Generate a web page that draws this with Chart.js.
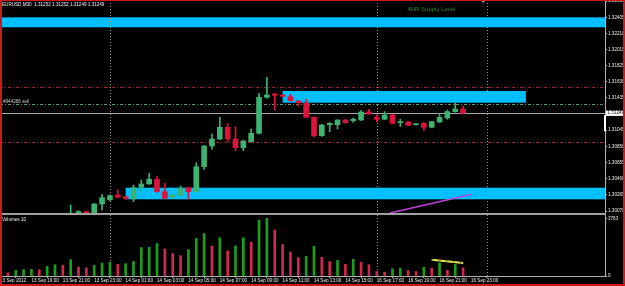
<!DOCTYPE html>
<html>
<head>
<meta charset="utf-8">
<title>EURUSD,M30</title>
<script src="https://cdn.jsdelivr.net/npm/chart.js@4.4.1/dist/chart.umd.min.js"></script>
<style>
  html, body { margin: 0; padding: 0; background: #000; }
  #wrap { position: relative; width: 625px; height: 286px; background: #000; overflow: hidden; }
  canvas { position: absolute; left: 0; }
  #price { top: 0; }
  #vol { top: 213px; }
  .edge { position: absolute; background: #cc1a1a; z-index: 3; }
  #sep { position: absolute; left: 0; top: 213px; width: 606px; height: 2px; background: #a0a0a0; z-index: 2; }
</style>
</head>
<body>
<div id="wrap">
  <canvas id="price" width="625" height="214"></canvas>
  <canvas id="vol" width="625" height="73"></canvas>
  <div id="sep"></div>
  <div class="edge" style="left:0;top:0;width:2px;height:286px"></div>
  <div class="edge" style="left:0;top:0;width:625px;height:1px"></div>
  <div class="edge" style="left:623px;top:0;width:2px;height:286px"></div>
  <div class="edge" style="left:0;top:284px;width:625px;height:2px"></div>
</div>
<script>
// EURUSD M30 candles, bar 0 = 13 Sep 17:30
const barOpen  = [1.29960, 1.29930, 1.29975, 1.30000, 1.29970, 1.29940, 1.30000, 1.29970, 1.29995, 1.30035,
                  1.30062, 1.30043, 1.30155, 1.30207, 1.30263, 1.30243, 1.30215, 1.30356, 1.30396, 1.30453,
                  1.30303, 1.30236, 1.30263, 1.30351, 1.30303, 1.30604, 1.30854, 1.30938, 1.31079, 1.30938,
                  1.30834, 1.30906, 1.31007, 1.31441, 1.31481, 1.31469, 1.31448, 1.31396, 1.31369, 1.31200,
                  1.30978, 1.31111, 1.31111, 1.31167, 1.31159, 1.31167, 1.31264, 1.31200, 1.31176, 1.31228,
                  1.31135, 1.31143, 1.31111, 1.31128, 1.31079, 1.31143, 1.31192, 1.31268, 1.31300];
const barHigh  = [1.29985, 1.29990, 1.30010, 1.30010, 1.29985, 1.30015, 1.30030, 1.30020, 1.30143, 1.30075,
                  1.30070, 1.30160, 1.30272, 1.30265, 1.30324, 1.30250, 1.30384, 1.30444, 1.30525, 1.30484,
                  1.30404, 1.30270, 1.30372, 1.30360, 1.30653, 1.30860, 1.30999, 1.31200, 1.31128, 1.31087,
                  1.30926, 1.31059, 1.31489, 1.31682, 1.31490, 1.31475, 1.31477, 1.31400, 1.31417, 1.31205,
                  1.31115, 1.31135, 1.31172, 1.31175, 1.31192, 1.31280, 1.31296, 1.31228, 1.31268, 1.31235,
                  1.31176, 1.31150, 1.31128, 1.31135, 1.31152, 1.31248, 1.31288, 1.31369, 1.31336];
const barLow   = [1.29920, 1.29925, 1.29960, 1.29960, 1.29930, 1.29935, 1.29960, 1.29960, 1.29980, 1.30020,
                  1.30025, 1.30035, 1.30082, 1.30195, 1.30230, 1.30210, 1.30183, 1.30284, 1.30390, 1.30295,
                  1.30215, 1.30228, 1.30255, 1.30211, 1.30295, 1.30570, 1.30814, 1.30930, 1.30906, 1.30797,
                  1.30797, 1.30900, 1.31000, 1.31430, 1.31288, 1.31445, 1.31395, 1.31336, 1.31195, 1.30959,
                  1.30970, 1.31026, 1.31059, 1.31128, 1.31140, 1.31160, 1.31235, 1.31147, 1.31170, 1.31120,
                  1.31088, 1.31098, 1.31105, 1.31038, 1.31072, 1.31138, 1.31176, 1.31262, 1.31240];
const barClose = [1.29930, 1.29975, 1.30000, 1.29970, 1.29940, 1.30000, 1.29970, 1.29995, 1.30030, 1.30062,
                  1.30043, 1.30155, 1.30231, 1.30255, 1.30236, 1.30219, 1.30351, 1.30396, 1.30453, 1.30303,
                  1.30224, 1.30263, 1.30344, 1.30303, 1.30604, 1.30854, 1.30938, 1.31079, 1.30938, 1.30834,
                  1.30914, 1.31007, 1.31441, 1.31469, 1.31465, 1.31453, 1.31400, 1.31376, 1.31200, 1.30978,
                  1.31107, 1.31128, 1.31167, 1.31135, 1.31176, 1.31264, 1.31240, 1.31176, 1.31228, 1.31128,
                  1.31147, 1.31104, 1.31123, 1.31079, 1.31147, 1.31200, 1.31268, 1.31300, 1.31249];
const volumes  = [212, 364, 416, 443, 410, 628, 740, 694, 1071, 582,
                  542, 694, 846, 912, 760, 806, 958, 1864, 1884, 2128,
                  1771, 1467, 1335, 1732, 2459, 2789, 1970, 2499, 1639, 1970,
                  2499, 2214, 3669, 3783, 3008, 2062, 1573, 1203, 1289, 1950,
                  1223, 945, 1025, 760, 1091, 906, 740, 297, 251, 476,
                  509, 364, 297, 582, 516, 859, 364, 760, 542];

const priceTicks = [1.32600, 1.32405, 1.32210, 1.32015, 1.31825, 1.31630, 1.31435,
                    1.31045, 1.30850, 1.30655, 1.30460, 1.30265, 1.30070];
const timeTickBars = [-1, 3, 7, 11, 15, 19, 23, 27, 31, 35, 39, 43, 47, 51, 55, 59];
const timeTickLabels = ['13 Sep 2012', '13 Sep 19:00', '13 Sep 21:00', '13 Sep 23:00', '14 Sep 01:00',
                        '14 Sep 03:00', '14 Sep 05:00', '14 Sep 07:00', '14 Sep 09:00', '14 Sep 11:00',
                        '14 Sep 13:00', '14 Sep 15:00', '16 Sep 17:00', '16 Sep 19:00', '16 Sep 21:00',
                        '16 Sep 23:00'];
const volTicks = [3783, 0];

// chart objects
const zoneHigh  = [1.32405, 1.31517, 1.30351];
const zoneLow   = [1.32285, 1.31376, 1.30211];
const zoneStart = [null, 35, 15];
const zoneEnd   = [null, 66, null];
const redLevels = [1.31562, 1.30899];
const sellLevel = 1.31357;
const separatorBars = [13, 47, 61];
const trendBars = [48.7, 59.1];
const trendPrices = [1.30046, 1.30272];
const volTrendBars = [54, 58];
const volTrendValues = [1069, 852];
const supplyLabel = { text: '4HR Supply Level', bar: 50.9, price: 1.32500 };

const BULL = '#3cb371', BEAR = '#dc143c';
const TXT = '#ececec', AXIS = '#b0b0b0';
const X_MIN = -1.0066, X_MAX = 76.08;
const small = { family: 'Liberation Sans', size: 4.6 };

const bars = barOpen.map((_, i) => i);
const candleColor = bars.map(i => barClose[i] >= barOpen[i] ? BULL : BEAR);
const volColor = volumes.map((v, i) => i > 0 && v > volumes[i - 1] ? '#1e9e1e' : '#d02850');
const bid = barClose[barClose.length - 1];

const drawSeparators = (ctx, x, a) => {
    ctx.save();
    ctx.strokeStyle = '#8c8c8c';
    ctx.lineWidth = 1;
    ctx.setLineDash([1, 2]);
    separatorBars.forEach(b => {
        const px = Math.round(x.getPixelForValue(b)) + 0.5;
        ctx.beginPath();
        ctx.moveTo(px, a.top);
        ctx.lineTo(px, a.bottom);
        ctx.stroke();
    });
    ctx.restore();
};

const hLine = (ctx, a, py, color, dash) => {
    ctx.strokeStyle = color;
    ctx.setLineDash(dash);
    ctx.beginPath();
    ctx.moveTo(a.left, Math.round(py) + 0.5);
    ctx.lineTo(a.right, Math.round(py) + 0.5);
    ctx.stroke();
};

const priceDecor = {
    id: 'priceDecor',
    beforeDatasetsDraw(chart) {
        const { ctx, chartArea: a, scales: { x, y } } = chart;
        ctx.save();
        ctx.beginPath();
        ctx.rect(a.left, a.top, a.right - a.left, a.bottom - a.top);
        ctx.clip();
        ctx.fillStyle = '#00bfff';
        zoneHigh.forEach((hi, i) => {
            const x0 = zoneStart[i] === null ? a.left : x.getPixelForValue(zoneStart[i]);
            const x1 = zoneEnd[i] === null ? a.right : x.getPixelForValue(zoneEnd[i]);
            const y0 = y.getPixelForValue(hi);
            const y1 = y.getPixelForValue(zoneLow[i]);
            ctx.fillRect(x0, y0, x1 - x0, y1 - y0);
        });
        ctx.lineWidth = 1;
        redLevels.forEach(p => hLine(ctx, a, y.getPixelForValue(p), '#a02828', [3, 2, 1, 2]));
        hLine(ctx, a, y.getPixelForValue(sellLevel), '#5c9c5c', [3, 2, 1, 2]);
        hLine(ctx, a, y.getPixelForValue(bid), '#a8a8a8', []);
        ctx.restore();
        drawSeparators(ctx, x, a);
    },
    afterDraw(chart) {
        const { ctx, scales: { x, y } } = chart;
        ctx.save();
        ctx.textBaseline = 'middle';
        ctx.textAlign = 'left';
        ctx.font = '4.6px "Liberation Sans"';
        ctx.fillStyle = TXT;
        ctx.fillText('EURUSD,M30  1.31252 1.31252 1.31249 1.31249', 2, 5);
        ctx.fillStyle = '#c8c8c8';
        ctx.fillText('#944266 sell', 3, y.getPixelForValue(sellLevel) - 3);
        ctx.font = '6px "Liberation Sans"';
        ctx.fillStyle = '#2a8a2a';
        ctx.fillText(supplyLabel.text, x.getPixelForValue(supplyLabel.bar), y.getPixelForValue(supplyLabel.price));
        // bid price box on the axis
        const yb = y.getPixelForValue(bid);
        ctx.fillStyle = '#ffffff';
        ctx.fillRect(606, yb - 2.7, 17, 5.4);
        ctx.fillRect(604, yb + 2, 2, 16);
        ctx.fillStyle = '#000';
        ctx.font = '4.6px "Liberation Sans"';
        ctx.fillText(bid.toFixed(5), 607.5, yb);
        // chart shift marker
        ctx.fillStyle = '#9a9a9a';
        ctx.beginPath();
        ctx.moveTo(480.5, 0);
        ctx.lineTo(486, 0);
        ctx.lineTo(483.2, 3);
        ctx.closePath();
        ctx.fill();
        ctx.restore();
    }
};

const volDecor = {
    id: 'volDecor',
    beforeDatasetsDraw(chart) {
        drawSeparators(chart.ctx, chart.scales.x, chart.chartArea);
    },
    afterDraw(chart) {
        const ctx = chart.ctx;
        ctx.save();
        ctx.font = '4.6px "Liberation Sans"';
        ctx.fillStyle = TXT;
        ctx.textBaseline = 'middle';
        ctx.fillText('Volumes 10', 2, 7);
        ctx.restore();
    }
};

const rightAxis = (min, max, ticks, fmt) => ({
    position: 'right',
    min: min,
    max: max,
    afterBuildTicks: s => { s.ticks = ticks.map(v => ({ value: v })); },
    afterFit: s => { s.width = 20; s.paddingTop = 0; s.paddingBottom = 0; },
    ticks: { color: TXT, font: small, padding: 1, autoSkip: false, callback: fmt },
    grid: { drawOnChartArea: false, tickLength: 2, color: AXIS },
    border: { color: AXIS, width: 1 }
});

new Chart(document.getElementById('price'), {
    type: 'bar',
    data: {
        datasets: [
            {
                type: 'line',
                data: trendBars.map((b, i) => ({ x: b, y: trendPrices[i] })),
                borderColor: '#c040d8',
                borderWidth: 1.5,
                pointRadius: 0,
                clip: 0,
                order: 1
            },
            {
                data: bars.map(i => ({ x: i, y: [barOpen[i], barClose[i]] })),
                backgroundColor: candleColor,
                barThickness: 5,
                minBarLength: 1,
                grouped: false,
                clip: 0,
                order: 2
            },
            {
                data: bars.map(i => ({ x: i, y: [barLow[i], barHigh[i]] })),
                backgroundColor: candleColor,
                barThickness: 1,
                grouped: false,
                clip: 0,
                order: 3
            }
        ]
    },
    options: {
        responsive: false,
        animation: false,
        events: [],
        layout: { padding: { left: 0, top: 0, right: 0, bottom: 1 } },
        plugins: { legend: { display: false }, tooltip: { enabled: false } },
        scales: {
            x: { type: 'linear', display: false, min: X_MIN, max: X_MAX, offset: false },
            y: rightAxis(1.30046, 1.32614, priceTicks, v => v.toFixed(5))
        }
    },
    plugins: [priceDecor]
});

new Chart(document.getElementById('vol'), {
    type: 'bar',
    data: {
        datasets: [
            {
                type: 'line',
                data: volTrendBars.map((b, i) => ({ x: b, y: volTrendValues[i] })),
                borderColor: '#e8e84a',
                borderWidth: 2,
                pointRadius: 0,
                order: 2
            },
            {
                type: 'line',
                data: volTrendBars.map((b, i) => ({ x: b, y: volTrendValues[i] })),
                borderColor: '#6e6e5a',
                borderWidth: 1,
                borderDash: [2, 5],
                pointRadius: 0,
                order: 1
            },
            {
                data: bars.map(i => ({ x: i, y: volumes[i] })),
                backgroundColor: volColor,
                barThickness: 2,
                grouped: false,
                clip: 0,
                order: 3
            }
        ]
    },
    options: {
        responsive: false,
        animation: false,
        events: [],
        layout: { padding: { left: 0, top: 2, right: 0, bottom: 0 } },
        plugins: { legend: { display: false }, tooltip: { enabled: false } },
        scales: {
            x: {
                type: 'linear',
                position: 'bottom',
                min: X_MIN,
                max: X_MAX,
                offset: false,
                afterBuildTicks: s => { s.ticks = timeTickBars.map(v => ({ value: v })); },
                afterFit: s => { s.height = 10; s.paddingLeft = 0; s.paddingRight = 0; },
                ticks: {
                    color: TXT, font: small, padding: 0, autoSkip: false,
                    maxRotation: 0, minRotation: 0, align: 'start',
                    callback: (v, i) => timeTickLabels[i]
                },
                grid: { drawOnChartArea: false, tickLength: 2, color: AXIS },
                border: { color: AXIS, width: 1 }
            },
            y: rightAxis(0, 4000, volTicks, v => String(v))
        }
    },
    plugins: [volDecor]
});
</script>
</body>
</html>
